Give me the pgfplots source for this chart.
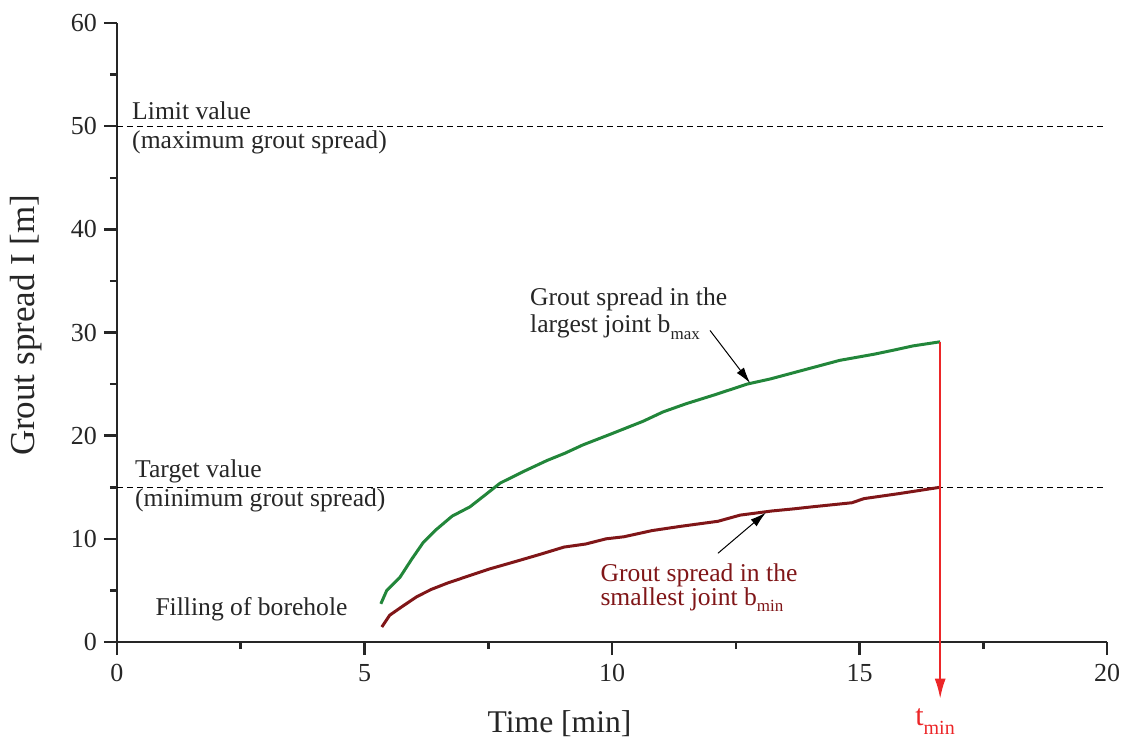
\documentclass[border=0pt]{standalone}
\usepackage{pgfplots}
\pgfplotsset{compat=1.18}
\usetikzlibrary{arrows.meta}
\usepackage{fontspec}
\setmainfont{Liberation Serif}
\definecolor{cgreen}{RGB}{34,134,58}
\definecolor{cdred}{RGB}{128,22,24}
\definecolor{cred}{RGB}{236,38,40}
\newcommand{\sub}[1]{\raisebox{-0.55ex}{\fontsize{8.5bp}{8.5bp}\selectfont #1}}
\begin{document}
\begin{tikzpicture}
\begin{axis}[
  at={(0,0)}, anchor=south west,
  scale only axis, width=495bp, height=309.5bp,
  xmin=0, xmax=20, ymin=0, ymax=60,
  axis lines=left,
  axis line style={-, line width=1.25bp, black!85},
  every tick/.style={line width=1.25bp, black!85},
  tick align=outside,
  major tick length=6.5bp, minor tick length=3.5bp,
  xtick={0,5,10,15,20}, ytick={0,10,20,30,40,50,60},
  minor x tick num=1, minor y tick num=1,
  tick label style={font=\fontsize{13bp}{14bp}\selectfont, text=black!85},
  /pgf/number format/assume math mode=true,
  clip=false,
  xticklabel style={yshift=-1bp},
]
% limit and target lines
\addplot[black, line width=0.5bp, dash pattern=on 3bp off 2bp] coordinates {(0,50) (20,50)};
\addplot[black, line width=0.5bp, dash pattern=on 3bp off 2bp] coordinates {(0,15) (20,15)};
% green curve (largest joint)
\addplot[cgreen, line width=1.5bp] coordinates {
(5.33,3.7) (5.45,5.0) (5.72,6.3) (5.95,8.0) (6.18,9.6) (6.45,10.9) (6.77,12.2)
(7.13,13.1) (7.45,14.3) (7.74,15.4) (8.2,16.5) (8.69,17.6) (9.05,18.3) (9.41,19.1)
(10.0,20.2) (10.63,21.4) (11.03,22.3) (11.5,23.1) (12.1,24.0) (12.73,25.0) (13.2,25.5)
(13.9,26.4) (14.6,27.3) (15.3,27.9) (15.7,28.3) (16.08,28.7) (16.63,29.1)};
% red curve (smallest joint)
\addplot[cdred, line width=1.5bp] coordinates {
(5.35,1.45) (5.51,2.6) (5.78,3.5) (6.06,4.4) (6.35,5.1) (6.67,5.7) (7.1,6.4) (7.54,7.1)
(8.05,7.8) (8.55,8.5) (9.03,9.2) (9.47,9.5) (9.88,10.0) (10.24,10.2) (10.81,10.8)
(11.37,11.2) (12.14,11.7) (12.59,12.3) (13.23,12.7) (13.66,12.9) (14.04,13.1)
(14.85,13.5) (15.09,13.9) (15.82,14.4) (16.63,15.0)};
% red vertical line with arrow
\addplot[cred, line width=1bp, -{Latex[length=10bp,width=5.5bp]}] coordinates {(16.63,29.1) (16.63,-5.5)};
% annotation arrows
\draw[black, line width=0.5bp, -{Latex[length=8bp,width=4.5bp]}] (axis cs:11.98,30.2) -- (axis cs:12.79,25.1);
\draw[black, line width=0.5bp, -{Latex[length=8bp,width=4.5bp]}] (axis cs:12.14,8.6) -- (axis cs:13.11,12.55);
% texts
\begin{scope}[every node/.style={font=\fontsize{12.8bp}{15bp}\selectfont, inner sep=0pt, text=black!85}]
\node[anchor=base west] at (axis cs:0.30,50.69) {Limit value};
\node[anchor=base west] at (axis cs:0.30,47.88) {(maximum grout spread)};
\node[anchor=base west] at (axis cs:0.36,15.99) {Target value};
\node[anchor=base west] at (axis cs:0.36,13.1) {(minimum grout spread)};
\node[anchor=base west] at (axis cs:0.77,2.6) {Filling of borehole};
\node[anchor=base west] at (axis cs:8.34,32.66) {Grout spread in the};
\node[anchor=base west] at (axis cs:8.34,29.98) {largest joint b\sub{max}};
\node[anchor=base west, text=cdred] at (axis cs:9.76,5.85) {Grout spread in the};
\node[anchor=base west, text=cdred] at (axis cs:9.76,3.58) {smallest joint b\sub{min}};
\end{scope}
\node[anchor=base west, inner sep=0pt, text=cred, font=\fontsize{15bp}{16bp}\selectfont] at (axis cs:16.12,-8.14) {t\raisebox{-0.6ex}{\fontsize{10bp}{10bp}\selectfont min}};
\node[anchor=base, inner sep=0pt, text=black!85, font=\fontsize{15.8bp}{17bp}\selectfont] at (axis cs:8.94,-8.82) {Time [min]};
\node[anchor=base, rotate=90, inner sep=0pt, text=black!85, font=\fontsize{17.5bp}{19bp}\selectfont] at (axis cs:-1.66,30.7) {Grout spread I [m]};
\end{axis}
\pgfresetboundingbox
\path (-58.5bp,-49bp) rectangle (504bp,321bp);
\end{tikzpicture}
\end{document}
